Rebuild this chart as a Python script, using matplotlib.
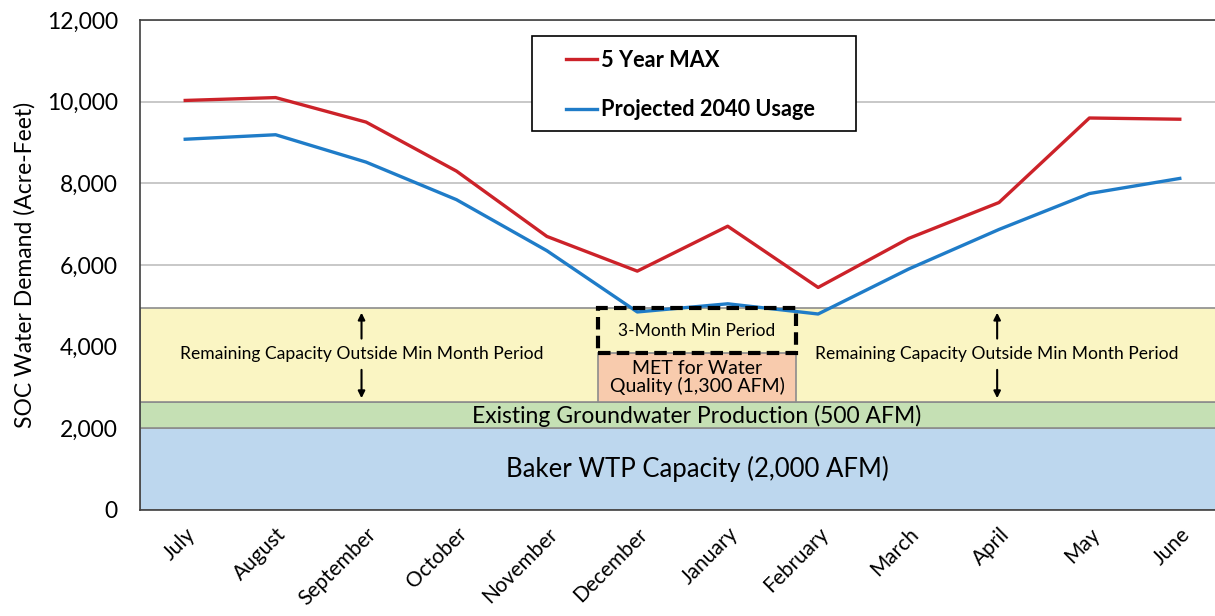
import matplotlib.pyplot as plt
from matplotlib.patches import Rectangle

plt.rcParams['font.family'] = ['Lato', 'DejaVu Sans']

# data
months = ["July", "August", "September", "October", "November", "December",
          "January", "February", "March", "April", "May", "June"]
max_5yr = [10030, 10100, 9500, 8300, 6700, 5850, 6950, 5450, 6650, 7530, 9600, 9570]
proj_2040 = [9080, 9190, 8520, 7600, 6350, 4850, 5050, 4800, 5900, 6870, 7750, 8120]

baker_cap = 2000
groundwater_top = 2650
remaining_top = 4950
met_top = 3850

x = list(range(len(months)))

fig = plt.figure(figsize=(12.15, 6.16), dpi=100)
ax = fig.add_axes([140 / 1215, 106 / 616, 1085 / 1215, 490 / 616])

# capacity bands
ax.axhspan(0, baker_cap, facecolor='#BDD7EE', edgecolor='#8C8C8C', lw=1.2, zorder=2)
ax.axhspan(baker_cap, groundwater_top, facecolor='#C5E0B4', edgecolor='#8C8C8C', lw=1.2, zorder=2)
ax.axhspan(groundwater_top, remaining_top, facecolor='#FAF5C3', edgecolor='#8C8C8C', lw=1.2, zorder=2)

# MET box and dashed 3-month min period box
ax.add_patch(Rectangle((4.56, groundwater_top), 2.2, met_top - groundwater_top,
                       facecolor='#F8CBAD', edgecolor='#8C8C8C', lw=1.2, zorder=3))
ax.add_patch(Rectangle((4.56, met_top), 2.2, remaining_top - met_top,
                       facecolor='none', edgecolor='black', lw=3, ls=(0, (3, 1.5)), zorder=5))

# lines
ax.plot(x, max_5yr, color='#CC2229', lw=2.4, label='5 Year MAX', zorder=4)
ax.plot(x, proj_2040, color='#1F7CC8', lw=2.4, label='Projected 2040 Usage', zorder=4)

# band labels
ax.text(5.66, 2310, "Existing Groundwater Production (500 AFM)", ha='center', va='center',
        fontsize=16.5, zorder=6)
ax.text(5.66, 1000, "Baker WTP Capacity (2,000 AFM)", ha='center', va='center',
        fontsize=18.5, zorder=6)
ax.text(5.66, 3240, "MET for Water\nQuality (1,300 AFM)", ha='center', va='center',
        fontsize=14, linespacing=1.0, zorder=6)
ax.text(5.66, 4390, "3-Month Min Period", ha='center', va='center', fontsize=12.5, zorder=6)

for xc in [1.95, 8.98]:
    ax.text(xc, 3820, "Remaining Capacity Outside Min Month Period", ha='center', va='center',
            fontsize=12.6, zorder=6)
    ax.annotate("", xy=(xc, remaining_top - 50), xytext=(xc, 4130),
                arrowprops=dict(arrowstyle='-|>', color='black', lw=1.5, mutation_scale=10), zorder=6)
    ax.annotate("", xy=(xc, groundwater_top + 20), xytext=(xc, 3500),
                arrowprops=dict(arrowstyle='-|>', color='black', lw=1.5, mutation_scale=10), zorder=6)

ax.set_xlim(-0.5, 11.5)
ax.set_ylim(0, 12000)
ax.set_yticks(range(0, 12001, 2000))
ax.set_yticklabels([f"{v:,}" for v in range(0, 12001, 2000)], fontsize=16.5)
ax.set_xticks(x)
ax.set_xticklabels(months, rotation=45, ha='right', rotation_mode='anchor', fontsize=15)
ax.tick_params(axis='both', length=0)
ax.tick_params(axis='x', pad=10)
ax.tick_params(axis='y', pad=16)
ax.set_ylabel("SOC Water Demand (Acre-Feet)", fontsize=16.5, labelpad=8)
ax.grid(axis='y', color='#BFBFBF', lw=1.2, zorder=1)
ax.set_axisbelow(True)
for s in ax.spines.values():
    s.set_color('#404040')
    s.set_linewidth(1.2)

# legend box drawn separately so the padding can match the reference
ax.add_patch(Rectangle((532 / 1215, 1 - 131 / 616), 324 / 1215, 95 / 616,
                       transform=fig.transFigure, facecolor='white',
                       edgecolor='black', lw=1.2, zorder=6, clip_on=False))
leg = ax.legend(loc='upper left', bbox_to_anchor=(566 / 1215, 1 - 50 / 616),
                bbox_transform=fig.transFigure, frameon=False,
                prop={'weight': 'bold', 'size': 15.7},
                handlelength=1.4, handletextpad=0.2, labelspacing=1.3,
                borderpad=0, borderaxespad=0)
leg.set_zorder(7)

fig.savefig("out.png", dpi=100)
